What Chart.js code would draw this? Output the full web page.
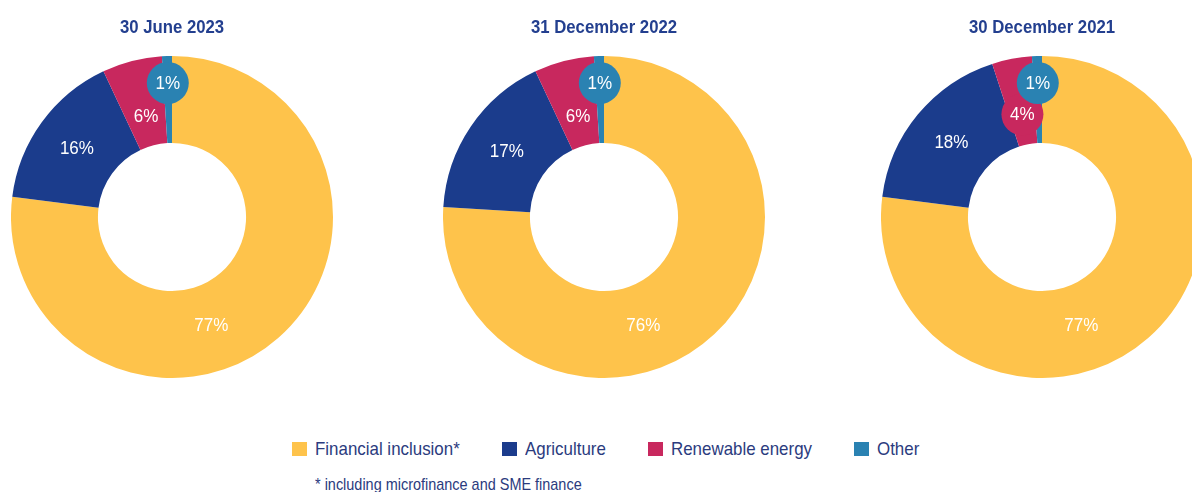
<!DOCTYPE html>
<html><head><meta charset="utf-8">
<script src="https://cdn.jsdelivr.net/npm/chart.js@4.4.0/dist/chart.umd.min.js"></script>
<style>
html,body{margin:0;padding:0;width:1192px;height:492px;overflow:hidden;background:#fff;}
#wrap{position:relative;width:1192px;height:492px;overflow:hidden;}
#wrap canvas{position:absolute;top:0;}
#legend{position:absolute;left:292px;top:439px;height:20px;display:flex;align-items:center;font-family:"Liberation Sans",Arial,sans-serif;font-size:19px;line-height:20px;color:#2b3b7e;white-space:nowrap;}
.item{display:flex;align-items:center;margin-right:42px;}
.sw{width:15px;height:14px;margin-right:8px;flex:none;}
.txo{display:inline-block;overflow:visible;height:20px;}
.txi{display:inline-block;transform:scaleX(0.89);transform-origin:0 50%;}
#note{position:absolute;left:315px;top:475px;font-family:"Liberation Sans",Arial,sans-serif;font-size:17px;line-height:20px;color:#2b3b7e;white-space:nowrap;transform:scaleX(0.85);transform-origin:0 50%;}
</style>
</head><body>
<div id="wrap">
  <canvas id="c0" width="322" height="378" style="left:11px"></canvas>
  <canvas id="c1" width="322" height="378" style="left:443px"></canvas>
  <canvas id="c2" width="322" height="378" style="left:881px"></canvas>
  <div id="legend"></div>
  <div id="note"></div>
</div>
<script>
const categories = ['Financial inclusion*', 'Agriculture', 'Renewable energy', 'Other'];
const chartTitles = ['30 June 2023', '31 December 2022', '30 December 2021'];
const values2023 = [77, 16, 6, 1];
const values2022 = [76, 17, 6, 1];
const values2021 = [77, 18, 4, 1];
const sliceColors = ['#FEC34B', '#1B3C8C', '#C8285E', '#2A82B2'];
const footnote = '* including microfinance and SME finance';

const FONT = '"Liberation Sans", Arial, sans-serif';

function condensedText(ctx, text, x, y, sx) {
  ctx.save();
  ctx.translate(x, y);
  ctx.scale(sx, 1);
  ctx.fillText(text, 0, 0);
  ctx.restore();
}

const chartTitle = {
  id: 'chartTitle',
  afterDraw(chart, args, opts) {
    const ctx = chart.ctx;
    ctx.save();
    ctx.font = 'bold 18px ' + FONT;
    ctx.fillStyle = '#233F8F';
    ctx.textAlign = 'center';
    ctx.textBaseline = 'alphabetic';
    condensedText(ctx, opts.text, chart.width / 2, 33, 0.93);
    ctx.restore();
  }
};

const sliceLabels = {
  id: 'sliceLabels',
  afterDatasetsDraw(chart) {
    const ctx = chart.ctx;
    const ds = chart.data.datasets[0];
    const meta = chart.getDatasetMeta(0);
    const ringPos = [0.47, 0.5, 0.35, 0.69];
    ctx.save();
    ctx.font = '18.5px ' + FONT;
    ctx.textAlign = 'center';
    ctx.textBaseline = 'middle';
    meta.data.forEach((arc, i) => {
      const p = arc.getProps(['x', 'y', 'startAngle', 'endAngle', 'innerRadius', 'outerRadius'], true);
      const ring = p.outerRadius - p.innerRadius;
      let ang = (p.startAngle + p.endAngle) / 2;
      if (i === 0) ang = p.startAngle + (160 / 360) * 2 * Math.PI;
      const r = p.innerRadius + ring * ringPos[i];
      const x = p.x + Math.cos(ang) * r;
      const y = p.y + Math.sin(ang) * r;
      const v = ds.data[i];
      if (v < 5) {
        ctx.beginPath();
        ctx.arc(x, y, 21, 0, Math.PI * 2);
        ctx.fillStyle = ds.backgroundColor[i];
        ctx.fill();
      }
      ctx.fillStyle = '#ffffff';
      condensedText(ctx, v + '%', x, y + 1, 0.92);
    });
    ctx.restore();
  }
};

function makeChart(id, title, values) {
  return new Chart(document.getElementById(id), {
    type: 'doughnut',
    data: {
      labels: categories,
      datasets: [{ data: values, backgroundColor: sliceColors, borderWidth: 0 }]
    },
    options: {
      responsive: false,
      animation: false,
      cutout: '46%',
      layout: { padding: { top: 56 } },
      plugins: {
        legend: { display: false },
        tooltip: { enabled: false },
        title: { display: false },
        chartTitle: { text: title }
      }
    },
    plugins: [sliceLabels, chartTitle]
  });
}

makeChart('c0', chartTitles[0], values2023);
makeChart('c1', chartTitles[1], values2022);
makeChart('c2', chartTitles[2], values2021);

const legend = document.getElementById('legend');
categories.forEach((c, i) => {
  const it = document.createElement('div');
  it.className = 'item';
  const sw = document.createElement('span');
  sw.className = 'sw';
  sw.style.background = sliceColors[i];
  const outer = document.createElement('span');
  outer.className = 'txo';
  const inner = document.createElement('span');
  inner.className = 'txi';
  inner.textContent = c;
  outer.appendChild(inner);
  it.appendChild(sw);
  it.appendChild(outer);
  legend.appendChild(it);
  outer.style.width = inner.getBoundingClientRect().width + 'px';
});
document.getElementById('note').textContent = footnote;
</script>
</body></html>
